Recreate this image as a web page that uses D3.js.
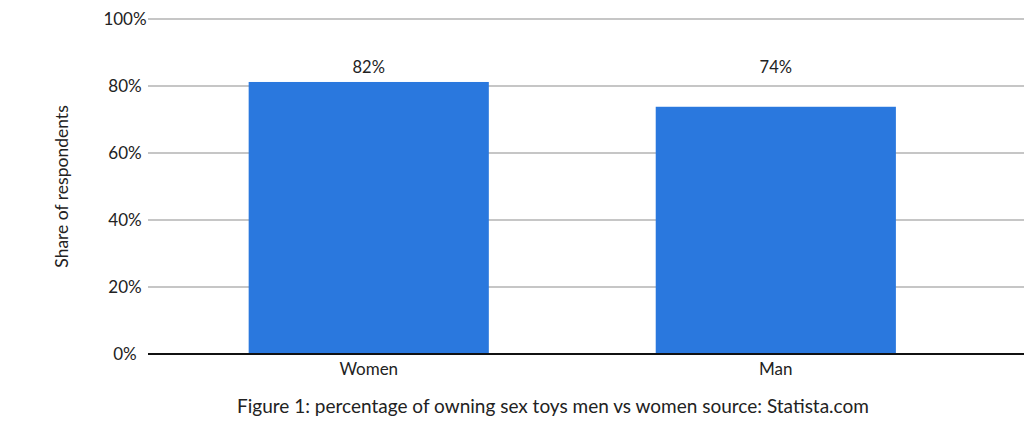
<!DOCTYPE html>
<html>
<head>
<meta charset="utf-8">
<script src="https://cdn.jsdelivr.net/npm/d3@7"></script>
<style>
  body { margin: 0; background: #fff; }
  svg text { font-family: Lato, "Noto Sans", sans-serif; fill: #222; }
</style>
</head>
<body>
<div id="chart"></div>
<script>
// chart data
var categories = ["Women", "Man"];
var shares = [81.2, 73.8];
var shareLabels = ["82%", "74%"];
var yTicks = [0, 20, 40, 60, 80, 100];

var width = 1024;
var height = 427;
var margin = { top: 19, right: 0, bottom: 73, left: 148 };

var svg = d3.select("#chart").append("svg")
    .attr("width", width)
    .attr("height", height);

var yScale = d3.scaleLinear()
    .domain([0, 100])
    .range([height - margin.bottom, margin.top]);

var xScale = d3.scaleBand()
    .domain(categories)
    .range([margin.left, width - margin.right])
    .paddingInner(0.41)
    .paddingOuter(0.281)
    .align(0.44);

// gridlines
svg.append("g")
    .selectAll("line")
    .data(yTicks.slice(1))
    .enter()
    .append("line")
    .attr("x1", margin.left)
    .attr("x2", width - margin.right)
    .attr("y1", d => yScale(d))
    .attr("y2", d => yScale(d))
    .attr("stroke", "#b3b3b3")
    .attr("stroke-width", 1.5);

// y axis labels, centred in the left gutter
var yAxis = svg.append("g")
    .attr("transform", "translate(" + margin.left + ",0)")
    .call(d3.axisLeft(yScale).tickValues(yTicks).tickFormat(d => d + "%").tickSize(0).tickPadding(23));
yAxis.select(".domain").remove();
yAxis.selectAll("text")
    .attr("text-anchor", "middle")
    .style("font-size", "17px")
    .attr("fill", "#222");

// bars
svg.append("g")
    .selectAll("rect")
    .data(shares)
    .enter()
    .append("rect")
    .attr("x", (d, i) => xScale(categories[i]))
    .attr("width", xScale.bandwidth())
    .attr("y", d => yScale(d))
    .attr("height", d => yScale(0) - yScale(d))
    .attr("fill", "#2a78de");

// baseline
svg.append("line")
    .attr("x1", margin.left)
    .attr("x2", width - margin.right)
    .attr("y1", yScale(0))
    .attr("y2", yScale(0))
    .attr("stroke", "#111")
    .attr("stroke-width", 2);

// value labels (fixed row above bars)
svg.append("g")
    .selectAll("text")
    .data(shareLabels)
    .enter()
    .append("text")
    .attr("x", (d, i) => xScale(categories[i]) + xScale.bandwidth() / 2)
    .attr("y", 73)
    .attr("text-anchor", "middle")
    .style("font-size", "16.5px")
    .text(d => d);

// x axis labels
var xAxis = svg.append("g")
    .attr("transform", "translate(0," + yScale(0) + ")")
    .call(d3.axisBottom(xScale).tickSize(0).tickPadding(9));
xAxis.select(".domain").remove();
xAxis.selectAll("text").style("font-size", "17px").attr("fill", "#222");

// y axis title
svg.append("text")
    .attr("transform", "translate(68," + yScale(50) + ") rotate(-90)")
    .attr("text-anchor", "middle")
    .style("font-size", "17.5px")
    .text("Share of respondents");

// caption
svg.append("text")
    .attr("x", 553)
    .attr("y", 413)
    .attr("text-anchor", "middle")
    .style("font-size", "19px")
    .text("Figure 1: percentage of owning sex toys men vs women source: Statista.com");
</script>
</body>
</html>
